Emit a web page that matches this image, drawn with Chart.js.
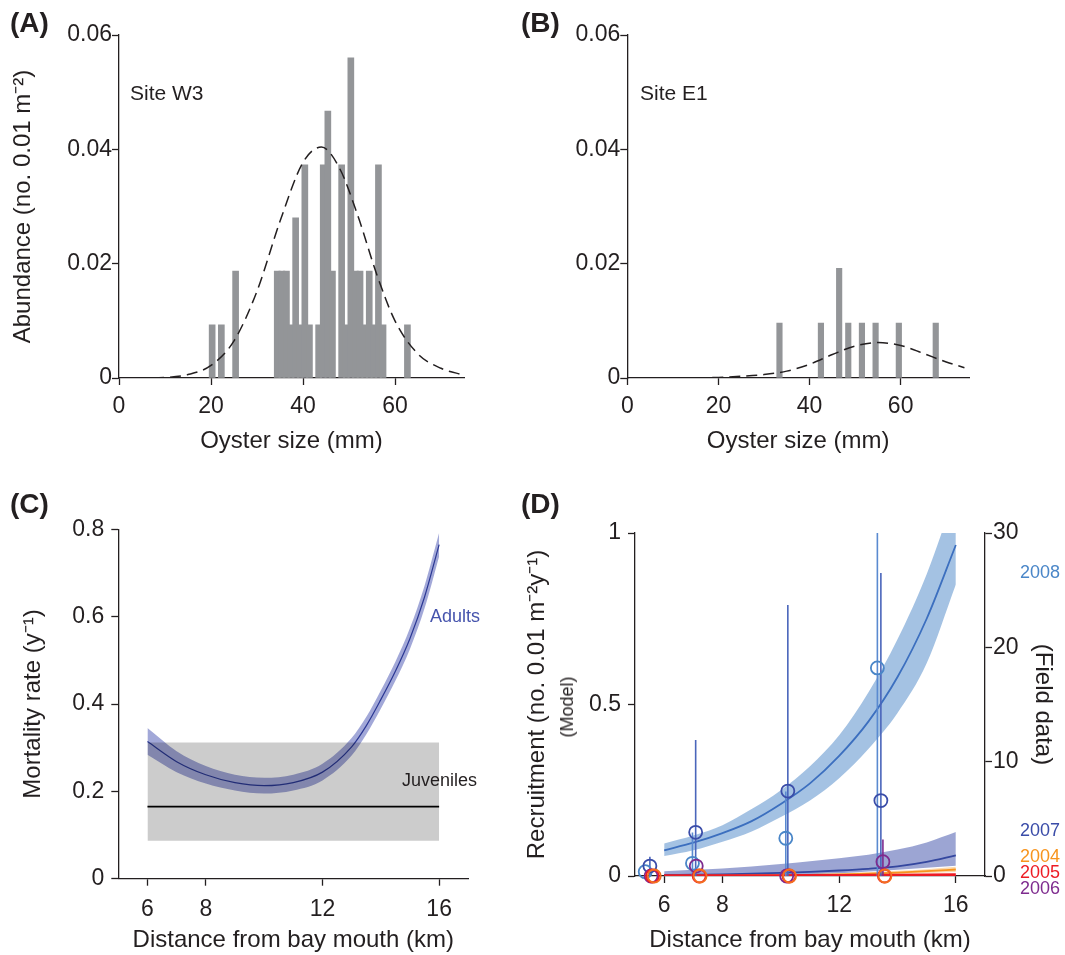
<!DOCTYPE html>
<html>
<head>
<meta charset="utf-8">
<script src="https://cdn.jsdelivr.net/npm/chart.js@4.4.1/dist/chart.umd.min.js"></script>
<style>
  body { margin: 0; background: #fff; width: 1065px; height: 955px; position: relative; overflow: hidden;
         font-family: 'Liberation Sans', Arial, sans-serif; color: #231f20; }
  canvas { position: absolute; }
  .lbl { position: absolute; white-space: nowrap; line-height: 1; }
  .panel { font-weight: bold; font-size: 28px; }
  .yr { font-size: 18px; left: 1020px; }
</style>
</head>
<body>
<canvas id="cA" width="500" height="470" style="left:0;top:0"></canvas>
<canvas id="cB" width="565" height="470" style="left:500px;top:0"></canvas>
<canvas id="cC" width="500" height="485" style="left:0;top:470px"></canvas>
<canvas id="cD" width="565" height="485" style="left:500px;top:470px"></canvas>

<div class="lbl panel" style="left:10px;top:9px">(A)</div>
<div class="lbl panel" style="left:521px;top:9px">(B)</div>
<div class="lbl panel" style="left:10px;top:490px">(C)</div>
<div class="lbl panel" style="left:521px;top:490px">(D)</div>

<div class="lbl" style="left:130px;top:82px;font-size:21px">Site W3</div>
<div class="lbl" style="left:640px;top:82px;font-size:21px">Site E1</div>

<div class="lbl" style="left:430px;top:607px;font-size:18px;color:#4654ad">Adults</div>
<div class="lbl" style="left:402px;top:771px;font-size:18px">Juveniles</div>

<div class="lbl" style="left:567px;top:707px;font-size:18px;transform:translate(-50%,-50%) rotate(-90deg)">(Model)</div>
<div class="lbl yr" style="top:563px;color:#4a86c8">2008</div>
<div class="lbl yr" style="top:821px;color:#3a4ca8">2007</div>
<div class="lbl yr" style="top:847px;color:#f7941d">2004</div>
<div class="lbl yr" style="top:863px;color:#ed1c24">2005</div>
<div class="lbl yr" style="top:879px;color:#7e2b8e">2006</div>

<script>
const INK = '#231f20';
const BAR = '#939598';

// (A) site W3 size histogram, bin centres (mm) and abundance
const sizesA = [20.25, 22.25, 25.35, 34.4, 35.4, 36.4, 37.4, 38.4, 39.4, 40.4, 41.4, 43.4, 44.4,
  45.4, 46.4, 48.4, 49.4, 50.4, 51.4, 52.4, 53.4, 54.4, 55.4, 56.4, 57.4, 62.7];
const abundA = [0.0093, 0.0093, 0.0187, 0.0187, 0.0187, 0.0187, 0.0093, 0.028, 0.0093, 0.0373, 0.0093, 0.0093, 0.0373,
  0.0467, 0.0187, 0.0373, 0.0093, 0.056, 0.0187, 0.0187, 0.0093, 0.0187, 0.0093, 0.0373, 0.0093, 0.0093];
const fitXA = [0, 5, 10, 15, 20, 25, 30, 35, 40, 44, 48, 52, 56, 60, 65, 70, 75];
const fitYA = [0, 0.00002, 0.0001, 0.0006, 0.0022, 0.0065, 0.0152, 0.0274, 0.0377, 0.0404, 0.0366, 0.0282, 0.0182, 0.0100, 0.0042, 0.0017, 0.0005];

// (B) site E1
const sizesB = [33.4, 42.5, 46.5, 48.5, 51.5, 54.5, 59.6, 67.7];
const abundB = [0.0096, 0.0096, 0.0192, 0.0096, 0.0096, 0.0096, 0.0096, 0.0096];
const fitXB = [0, 10, 20, 25, 30, 35, 40, 45, 50, 55, 60, 65, 70, 74];
const fitYB = [0, 0, 0.0001, 0.0003, 0.0006, 0.0012, 0.0024, 0.0041, 0.0056, 0.0062, 0.0057, 0.0043, 0.0028, 0.0018];

const sizeTicks = [0, 20, 40, 60];
const abundTicks = [0, 0.02, 0.04, 0.06];

// (C) mortality vs distance
const distC = [6, 7, 8, 9, 10, 11, 12, 13, 13.5, 14, 14.5, 15, 15.5, 16];
const adultMid = [0.314, 0.268, 0.238, 0.220, 0.213, 0.220, 0.244, 0.302, 0.350, 0.410, 0.475, 0.550, 0.645, 0.765];
const adultLow = [0.284, 0.244, 0.218, 0.202, 0.195, 0.202, 0.225, 0.282, 0.330, 0.389, 0.453, 0.526, 0.619, 0.738];
const adultHigh = [0.345, 0.292, 0.258, 0.238, 0.231, 0.238, 0.263, 0.322, 0.370, 0.431, 0.497, 0.574, 0.671, 0.792];
const juvX = [6, 16];
const juvMean = [0.165, 0.165];
const juvLow = [0.087, 0.087];
const juvHigh = [0.312, 0.312];
const distTicks = [6, 8, 12, 16];
const mortTicks = [0, 0.2, 0.4, 0.6, 0.8];

// (D) recruitment: model (left axis) and field data (right axis)
const modelX = [6, 7, 8, 9, 10, 11, 12, 13, 14, 15, 16];
const mid2008 = [0.075, 0.097, 0.125, 0.16, 0.21, 0.27, 0.35, 0.45, 0.58, 0.75, 0.965];
const low2008 = [0.058, 0.075, 0.100, 0.130, 0.172, 0.22, 0.285, 0.37, 0.475, 0.62, 0.85];
const high2008 = [0.095, 0.118, 0.148, 0.195, 0.25, 0.32, 0.41, 0.535, 0.69, 0.88, 1.12];
const mid2007 = [0.003, 0.004, 0.005, 0.007, 0.009, 0.012, 0.016, 0.021, 0.028, 0.041, 0.06];
const low2007 = [0, 0, 0, 0.001, 0.002, 0.005, 0.008, 0.013, 0.018, 0.024, 0.03];
const high2007 = [0.014, 0.018, 0.022, 0.028, 0.035, 0.043, 0.052, 0.062, 0.077, 0.098, 0.128];
const mid2004 = [0, 0.0005, 0.001, 0.0015, 0.002, 0.003, 0.005, 0.007, 0.01, 0.014, 0.019];
const low2004 = [0, 0, 0, 0.0005, 0.001, 0.0015, 0.0025, 0.004, 0.006, 0.009, 0.012];
const high2004 = [0.001, 0.0015, 0.002, 0.003, 0.004, 0.006, 0.008, 0.011, 0.015, 0.02, 0.027];
const mid2005 = [0.001, 0.001, 0.001, 0.0015, 0.0015, 0.002, 0.002, 0.0025, 0.003, 0.0035, 0.004];
const mid2006 = [0, 0, 0, 0, 0, 0.0005, 0.0005, 0.0005, 0.001, 0.001, 0.001];

const fieldX2008 = [5.35, 6.97, 10.17, 13.31];
const field2008 = [0.38, 1.11, 3.3, 18.2];
const errHi2008 = [null, 3.8, 7.4, 31];
const fieldX2007 = [5.51, 7.08, 10.24, 13.43];
const field2007 = [0.87, 3.82, 7.43, 6.6];
const errHi2007 = [1.69, 11.9, 23.7, 26.5];
const fieldX2006 = [5.55, 7.1, 10.2, 13.5];
const field2006 = [0, 0.87, 0, 1.25];
const errHi2006 = [null, null, null, 3.2];
const fieldX2005 = [5.6, 7.2, 10.28, 13.55];
const field2005 = [0, 0, 0, 0];
const fieldX2004 = [5.66, 7.23, 10.3, 13.57];
const field2004 = [0, 0, 0, 0];
const modelTicks = [0, 0.5, 1];
const fieldTicks = [0, 10, 20, 30];

const C2008 = '#4a86c8', C2007 = '#3a4ca8', C2006 = '#7e2b8e', C2005 = '#ed1c24', C2004 = '#f7941d';

Chart.defaults.font.family = "'Liberation Sans', Arial, sans-serif";
Chart.defaults.color = INK;

const pts = (xs, ys) => xs.map((x, i) => ({ x, y: ys[i] }));

// error bars as broken line segments from 0 up to the upper value
function errSegs(xs, his) {
  const out = [];
  xs.forEach((x, i) => {
    if (his[i] == null) return;
    out.push({ x, y: 0 }, { x, y: his[i] }, { x, y: null });
  });
  return out;
}

function axis(o) {
  return {
    type: 'linear',
    position: o.position,
    min: o.min,
    max: o.max,
    offset: false,
    afterBuildTicks: s => { s.ticks = o.ticks.map(v => ({ value: v })); },
    afterFit: s => {
      if (o.width != null) s.width = o.width;
      if (o.height != null) s.height = o.height;
    },
    grid: { display: true, offset: false, drawOnChartArea: false, drawTicks: true, tickLength: 7, tickWidth: 1.3, tickColor: INK },
    border: { display: true, color: INK, width: 1.3 },
    ticks: { color: INK, font: { size: 23 }, padding: o.pad, autoSkip: false, maxRotation: 0, callback: v => String(v) },
    title: o.title
      ? { display: true, text: o.title, color: INK, font: { size: 24 }, padding: o.titlePad }
      : { display: false },
  };
}

const base = {
  responsive: false,
  animation: false,
  events: [],
  plugins: { legend: { display: false }, tooltip: { enabled: false } },
};

function histChart(id, sizes, abund, fitX, fitY, barW, pad, yWidth, yTitle) {
  new Chart(document.getElementById(id), {
    type: 'bar',
    data: {
      datasets: [
        { type: 'line', data: pts(fitX, fitY), borderColor: INK, borderWidth: 1.5, borderDash: [11, 6],
          pointRadius: 0, fill: false, cubicInterpolationMode: 'monotone', order: 0 },
        { type: 'bar', data: pts(sizes, abund), backgroundColor: BAR, barThickness: barW, order: 1 },
      ],
    },
    options: {
      ...base,
      layout: { padding: pad },
      scales: {
        x: axis({ position: 'bottom', min: 0, max: 75, ticks: sizeTicks, height: 92, pad: 8,
          title: 'Oyster size (mm)', titlePad: { top: 0, bottom: 14 } }),
        y: axis({ position: 'left', min: 0, max: 0.06, ticks: abundTicks, width: yWidth, pad: 0,
          title: yTitle, titlePad: { top: 8.6, bottom: 0 } }),
      },
    },
  });
}

histChart('cA', sizesA, abundA, fitXA, fitYA, 6, { left: 0, top: 35, right: 36, bottom: 0 }, 119,
  'Abundance (no. 0.01 m\u207B\u00B2)');
histChart('cB', sizesB, abundB, fitXB, fitYB, 5.5, { left: 0, top: 35, right: 96, bottom: 0 }, 127.3, null);

// (C)
new Chart(document.getElementById('cC'), {
  type: 'line',
  data: {
    datasets: [
      { data: pts(distC, adultLow), borderColor: 'rgba(0,0,0,0)', borderWidth: 0, pointRadius: 0, fill: false,
        cubicInterpolationMode: 'monotone', order: 6 },
      { data: pts(distC, adultHigh), borderColor: 'rgba(0,0,0,0)', borderWidth: 0, pointRadius: 0, fill: 0,
        backgroundColor: 'rgba(70,82,178,0.5)', cubicInterpolationMode: 'monotone', order: 5 },
      { data: pts(distC, adultMid), borderColor: '#2b3894', borderWidth: 1.2, pointRadius: 0, fill: false,
        cubicInterpolationMode: 'monotone', order: 4 },
      { data: pts(juvX, juvLow), borderColor: 'rgba(0,0,0,0)', borderWidth: 0, pointRadius: 0, fill: false, order: 3 },
      { data: pts(juvX, juvHigh), borderColor: 'rgba(0,0,0,0)', borderWidth: 0, pointRadius: 0, fill: 3,
        backgroundColor: 'rgba(0,0,0,0.2)', order: 2 },
      { data: pts(juvX, juvMean), borderColor: '#000', borderWidth: 1.6, pointRadius: 0, fill: false, order: 1 },
    ],
  },
  options: {
    ...base,
    layout: { padding: { left: 0, top: 59.3, right: 31.7, bottom: 0 } },
    scales: {
      x: axis({ position: 'bottom', min: 5, max: 17, ticks: distTicks, height: 76.3, pad: 10,
        title: 'Distance from bay mouth (km)', titlePad: { top: 0, bottom: 0 } }),
      y: axis({ position: 'left', min: 0, max: 0.8, ticks: mortTicks, width: 118.3, pad: 7,
        title: 'Mortality rate (y\u207B\u00B9)', titlePad: { top: 18.6, bottom: 0 } }),
    },
  },
});

// (D)
const dsD = [];
function band(low, high, color) {
  const i = dsD.length;
  dsD.push({ data: pts(modelX, low), yAxisID: 'y', borderColor: 'rgba(0,0,0,0)', borderWidth: 0, pointRadius: 0,
    fill: false, cubicInterpolationMode: 'monotone', order: 30 });
  dsD.push({ data: pts(modelX, high), yAxisID: 'y', borderColor: 'rgba(0,0,0,0)', borderWidth: 0, pointRadius: 0,
    fill: i, backgroundColor: color, cubicInterpolationMode: 'monotone', order: 29 - i });
}
function modelLine(mid, color, w, order) {
  dsD.push({ data: pts(modelX, mid), yAxisID: 'y', borderColor: color, borderWidth: w, pointRadius: 0,
    fill: false, cubicInterpolationMode: 'monotone', order });
}
function errLine(xs, his, color) {
  dsD.push({ data: errSegs(xs, his), yAxisID: 'y2', borderColor: color, borderWidth: 1.6, pointRadius: 0,
    fill: false, spanGaps: false, order: 7 });
}
function circles(xs, ys, color, order) {
  dsD.push({ data: pts(xs, ys), yAxisID: 'y2', showLine: false, pointRadius: 6.5, pointBorderWidth: 1.8,
    pointBorderColor: color, pointBackgroundColor: 'rgba(0,0,0,0)', clip: false, order });
}

band(low2008, high2008, 'rgba(74,134,200,0.5)');
band(low2007, high2007, 'rgba(58,76,168,0.5)');
band(low2004, high2004, 'rgba(247,148,29,0.35)');
modelLine(mid2008, '#3c6fbf', 1.8, 14);
modelLine(mid2007, '#34479f', 1.8, 13);
modelLine(mid2004, C2004, 1.8, 12);
modelLine(mid2006, C2006, 1.5, 11);
modelLine(mid2005, C2005, 2.6, 10);
errLine(fieldX2008, errHi2008, '#5a8ad0');
errLine(fieldX2007, errHi2007, '#4a66bb');
errLine(fieldX2006, errHi2006, C2006);
circles(fieldX2008, field2008, C2008, 5);
circles(fieldX2007, field2007, C2007, 4);
circles(fieldX2006, field2006, C2006, 3);
circles(fieldX2005, field2005, C2005, 2);
circles(fieldX2004, field2004, '#f36f21', 1);

new Chart(document.getElementById('cD'), {
  type: 'line',
  data: { datasets: dsD },
  options: {
    ...base,
    layout: { padding: { left: 0, top: 63, right: 0, bottom: 0 } },
    scales: {
      x: axis({ position: 'bottom', min: 5, max: 17, ticks: distTicks, height: 79, pad: 9,
        title: 'Distance from bay mouth (km)', titlePad: { top: 0, bottom: 0 } }),
      y: axis({ position: 'left', min: 0, max: 1, ticks: modelTicks, width: 135, pad: 7,
        title: 'Recruitment (no. 0.01 m\u207B\u00B2y\u207B\u00B9)', titlePad: { top: 22.6, bottom: 0 } }),
      y2: axis({ position: 'right', min: 0, max: 30, ticks: fieldTicks, width: 80, pad: 1,
        title: '(Field data)', titlePad: { top: 7.6, bottom: 0 } }),
    },
  },
});
</script>
</body>
</html>
